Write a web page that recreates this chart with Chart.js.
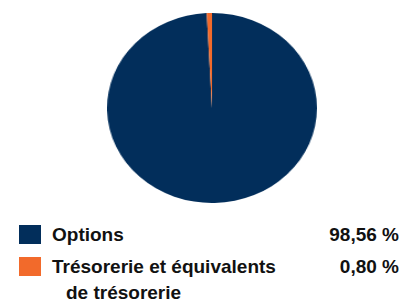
<!DOCTYPE html>
<html>
<head>
<meta charset="utf-8">
<script src="https://cdn.jsdelivr.net/npm/chart.js@4/dist/chart.umd.min.js"></script>
<style>
    body { margin: 0; background: #fff; width: 403px; height: 303px; overflow: hidden; position: relative; font-family: "Liberation Sans", Arial, sans-serif; }
    #pie-wrap { position: absolute; left: 117px; top: 13px; width: 190px; height: 190px; transform: scaleX(1.105); transform-origin: center center; }
    .legend-row { position: absolute; left: 19px; width: 380px; font-size: 19px; font-weight: bold; color: #111; line-height: 22px; }
    .legend-row .swatch { position: absolute; left: 0; top: 1px; width: 22px; height: 19px; }
    .legend-row .label { position: absolute; left: 33px; white-space: nowrap; }
    .legend-row .label span { display: block; }
    .legend-row .label span + span { padding-left: 14px; margin-top: 4px; }
    .legend-row .pct { position: absolute; right: 0; white-space: nowrap; }
</style>
</head>
<body>
<div id="pie-wrap"><canvas id="pieChart" width="190" height="190"></canvas></div>
<div id="legend"></div>
<script>
document.addEventListener('DOMContentLoaded', function() {
    const categories = ['Options', 'Trésorerie et équivalents de trésorerie'];
    const labelLines = [['Options'], ['Trésorerie et équivalents', 'de trésorerie']];
    const parts = [98.56, 0.80];
    const couleurs = ['#022e5b', '#f26a2b'];
    const rowTops = [224, 256];

    // legende maison, valeurs alignees a droite
    const legend = document.getElementById('legend');
    categories.forEach((cat, i) => {
        const row = document.createElement('div');
        row.className = 'legend-row';
        row.style.top = rowTops[i] + 'px';
        row.innerHTML = `
            <div class="swatch" style="background:${couleurs[i]}"></div>
            <div class="label">${labelLines[i].map(l => `<span>${l}</span>`).join('')}</div>
            <div class="pct">${parts[i].toFixed(2).replace('.', ',')} %</div>
        `;
        legend.appendChild(row);
    });

    const ctx = document.getElementById('pieChart').getContext('2d');
    new Chart(ctx, {
        type: 'pie',
        data: {
            labels: categories,
            datasets: [{
                data: parts,
                backgroundColor: couleurs,
                borderWidth: 0
            }]
        },
        options: {
            responsive: false,
            animation: false,
            layout: { padding: 0 },
            plugins: {
                legend: { display: false },
                tooltip: { enabled: false }
            }
        }
    });
});
</script>
</body>
</html>
